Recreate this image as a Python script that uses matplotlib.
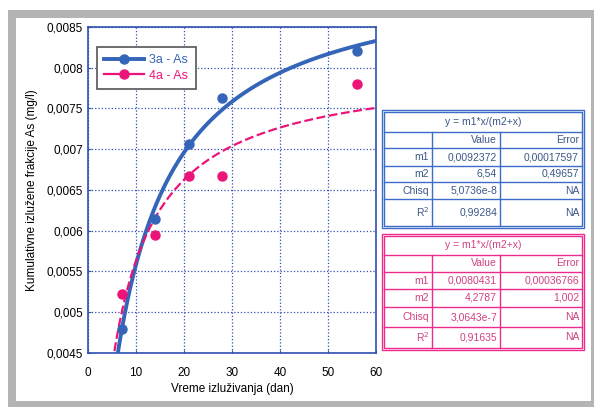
import numpy as np
import matplotlib
matplotlib.use("Agg")
import matplotlib.pyplot as plt
from matplotlib.patches import Rectangle
from matplotlib.lines import Line2D

plt.rcParams["font.family"] = ["Liberation Sans", "DejaVu Sans"]

# measured data
days = [7, 14, 21, 28, 56]
as_3a = [0.0048, 0.00615, 0.00707, 0.00763, 0.00821]
as_4a = [0.00522, 0.00595, 0.00667, 0.00667, 0.0078]

# fit y = m1*x/(m2+x)
fit_3a = [0.0092372, 6.54]
fit_4a = [0.0080431, 4.2787]

yticks = [0.0045, 0.005, 0.0055, 0.006, 0.0065, 0.007, 0.0075, 0.008, 0.0085]
ytick_labels = ["0,0045", "0,005", "0,0055", "0,006", "0,0065", "0,007", "0,0075", "0,008", "0,0085"]
xticks = [0, 10, 20, 30, 40, 50, 60]

tbl_title = "y = m1*x/(m2+x)"
tbl_rows = ["m1", "m2", "Chisq", "R$^2$"]
tbl_3a = [["0,0092372", "0,00017597"], ["6,54", "0,49657"], ["5,0736e-8", "NA"], ["0,99284", "NA"]]
tbl_4a = [["0,0080431", "0,00036766"], ["4,2787", "1,002"], ["3,0643e-7", "NA"], ["0,91635", "NA"]]

BLUE = "#3465b8"
PINK = "#ec1479"
GRID = "#3050b0"
W, H = 594, 407

fig = plt.figure(figsize=(W / 100, H / 100), dpi=100)

# background frame in pixel coordinates
bg = fig.add_axes([0, 0, 1, 1], zorder=0)
bg.set_xlim(0, W); bg.set_ylim(H, 0); bg.axis("off")
bg.add_patch(Rectangle((8, 10), W, H, facecolor="#b4b4b4", edgecolor="none"))
bg.add_patch(Rectangle((16, 18), 575, 383, facecolor="white", edgecolor="none"))

# main plot
ax = fig.add_axes([88 / W, 1 - 353 / H, 288 / W, 326 / H], zorder=2)
for x, y, m, c in [(days, as_3a, fit_3a, BLUE), (days, as_4a, fit_4a, PINK)]:
    ax.plot(x, y, "o", color=c, ms=6.5, zorder=4)
xx = np.linspace(5.5, 60, 300)
ax.plot(xx, fit_3a[0] * xx / (fit_3a[1] + xx), color=BLUE, lw=2.8, zorder=3)
ax.plot(xx, fit_4a[0] * xx / (fit_4a[1] + xx), color=PINK, lw=1.6, dashes=(4, 1.6), zorder=3)

ax.set_xlim(0, 60)
ax.set_ylim(0.0045, 0.0085)
ax.set_xticks(xticks)
ax.set_yticks(yticks)
ax.set_yticklabels(ytick_labels)
ax.tick_params(axis="both", labelsize=8.5, direction="in", length=2, color=GRID)
ax.tick_params(axis="x", pad=10)
ax.grid(True, color=GRID, linestyle=":", lw=0.9)
for s in ax.spines.values():
    s.set_color(GRID)
    s.set_linewidth(1.2)
ax.set_xlabel("Vreme izluživanja (dan)", fontsize=8.5, labelpad=3)
ax.set_ylabel("Kumulativne izlužene frakcije As (mg/l)", fontsize=8.5, labelpad=6)

handles = [Line2D([], [], color=BLUE, lw=2.8, marker="o", ms=6.5),
           Line2D([], [], color=PINK, lw=1.6, marker="o", ms=6.5)]
leg = ax.legend(handles, ["3a - As", "4a - As"], loc="upper left",
                bbox_to_anchor=(0.03, 0.94), borderaxespad=0, fontsize=9, fancybox=False,
                framealpha=1, edgecolor="#555555", handlelength=3.2,
                borderpad=0.6, labelspacing=0.3, handletextpad=0.4)
leg.get_frame().set_linewidth(1.2)
for t, c in zip(leg.get_texts(), [BLUE, PINK]):
    t.set_color(c)


def draw_table(top, row_h, edge, txt, values):
    x0, x1, x2, x3 = 384, 432, 500, 582
    bottom = top + sum(row_h)
    bg.add_patch(Rectangle((x0 - 2, top - 2), x3 - x0 + 4, bottom - top + 4,
                           fill=False, edgecolor=edge, lw=1.0, zorder=3))
    bg.add_patch(Rectangle((x0, top), x3 - x0, bottom - top,
                           fill=False, edgecolor=edge, lw=1.0, zorder=3))
    ys = np.cumsum([top] + row_h)
    for yline in ys[1:-1]:
        bg.plot([x0, x3], [yline, yline], color=edge, lw=1.0, zorder=3)
    for xl in (x1, x2):
        bg.plot([xl, xl], [ys[1], bottom], color=edge, lw=1.0, zorder=3)
    fs = 7.5
    bg.text((x0 + x3) / 2, (ys[0] + ys[1]) / 2, tbl_title, ha="center", va="center",
            fontsize=fs, color=txt, zorder=4)
    bg.text(x2 - 3, (ys[1] + ys[2]) / 2, "Value", ha="right", va="center", fontsize=fs, color=txt, zorder=4)
    bg.text(x3 - 3, (ys[1] + ys[2]) / 2, "Error", ha="right", va="center", fontsize=fs, color=txt, zorder=4)
    for i, (name, vals) in enumerate(zip(tbl_rows, values)):
        yc = (ys[i + 2] + ys[i + 3]) / 2
        bg.text(x1 - 3, yc, name, ha="right", va="center", fontsize=fs, color=txt, zorder=4)
        bg.text(x2 - 3, yc, vals[0], ha="right", va="center", fontsize=fs, color=txt, zorder=4)
        bg.text(x3 - 3, yc, vals[1], ha="right", va="center", fontsize=fs, color=txt, zorder=4)


draw_table(112, [20, 16, 18, 16, 17, 27], "#3d6cc8", "#3c5788", tbl_3a)
draw_table(236, [19, 17, 17, 18, 20, 21], "#ee2b8c", "#d04080", tbl_4a)

fig.savefig("out.png", dpi=100)
